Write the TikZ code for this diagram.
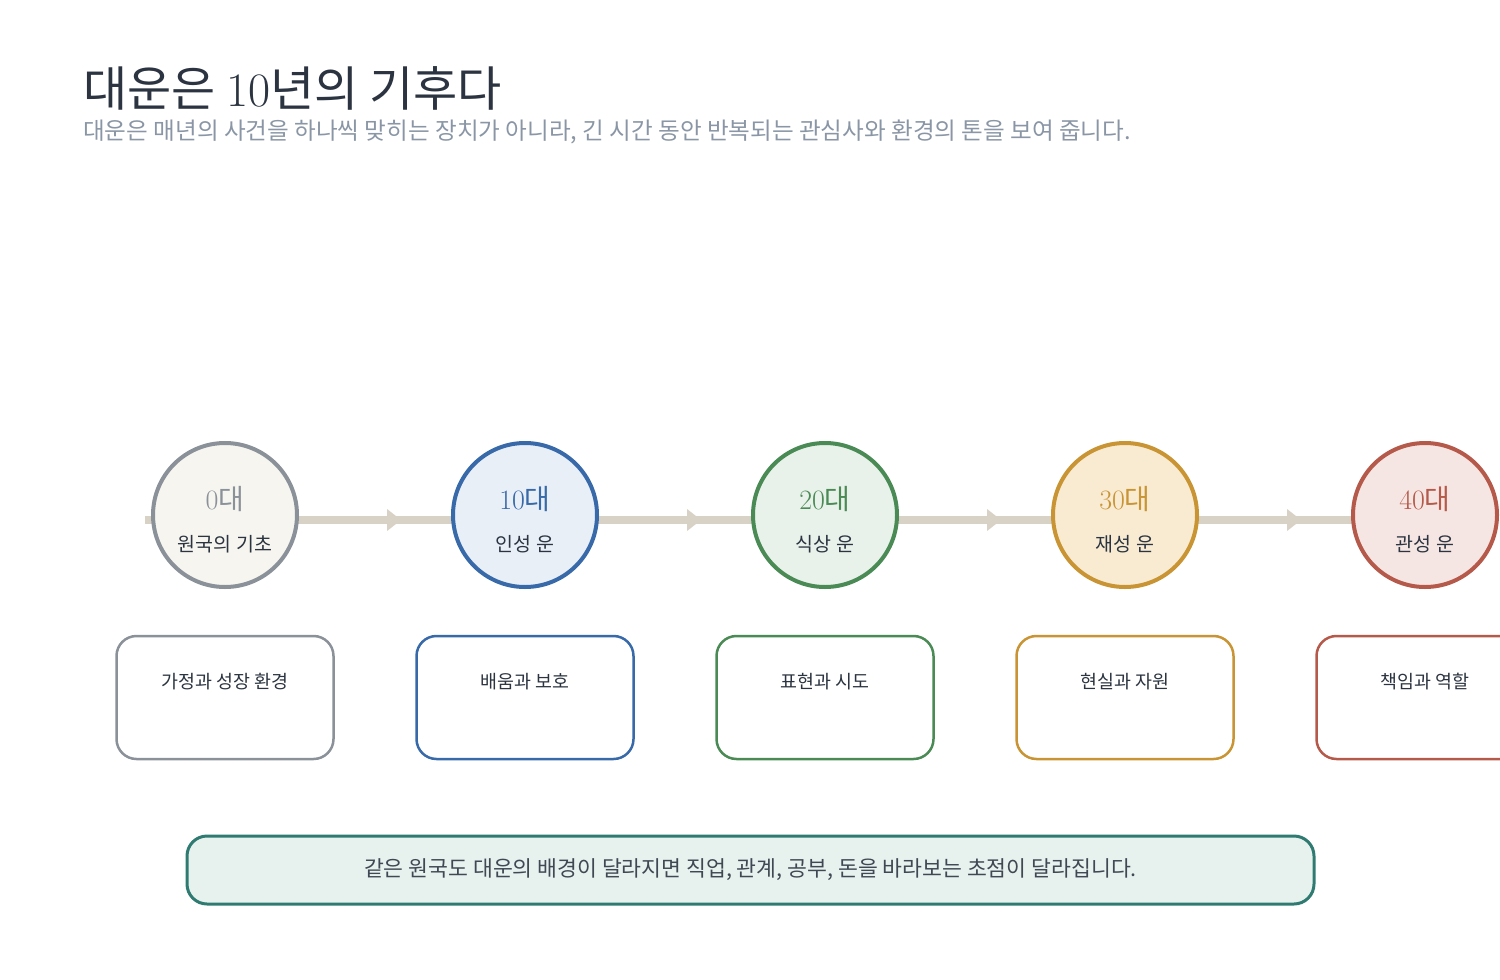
\documentclass[tikz,border=0pt]{standalone}
\usepackage{fontspec}
\newfontfamily\kr{Noto Sans CJK KR}
\usetikzlibrary{arrows.meta,positioning,calc,decorations.markings}
\definecolor{ink}{RGB}{43,52,64}
\definecolor{subink}{RGB}{138,150,165}
\definecolor{track}{RGB}{216,209,198}
\definecolor{gray}{RGB}{138,145,153}
\definecolor{blue}{RGB}{56,105,168}
\definecolor{green}{RGB}{74,138,85}
\definecolor{gold}{RGB}{201,148,52}
\definecolor{red}{RGB}{181,90,74}
\definecolor{teal}{RGB}{47,123,114}
\definecolor{grayfill}{RGB}{246,245,240}
\definecolor{bluefill}{RGB}{232,239,247}
\definecolor{greenfill}{RGB}{232,242,234}
\definecolor{goldfill}{RGB}{248,235,210}
\definecolor{redfill}{RGB}{246,230,227}
\definecolor{notefill}{RGB}{231,241,238}

\begin{document}
\begin{tikzpicture}[x=1pt, y=-1pt, every node/.style={font=\kr, inner sep=0pt},
    flow/.style={track, line width=8pt, postaction={decorate}, decoration={markings,
      mark=at position 0.587 with {\arrow{Triangle[length=14pt,width=21pt]}}}},
    stage/.style={circle, draw=#1, fill=#1fill, line width=4pt, minimum size=144pt},
    card/.style={draw=#1, line width=2.5pt, rounded corners=20pt, fill=white,
      minimum width=217pt, minimum height=123pt},
    age/.style={text=#1, font=\kr\fontsize{28}{28}\selectfont},
    luck/.style={text=ink, font=\kr\fontsize{19.5}{19.5}\selectfont},
    task/.style={text=ink, font=\kr\fontsize{18.4}{18.4}\selectfont}]
      \useasboundingbox (0,0) rectangle (1500,980);
      \clip (0,0) rectangle (1500,980);
      % title
      \node[anchor=base west, text=ink, font=\kr\fontsize{48}{48}\selectfont] (title) at (83,106) {대운은 {\rmfamily 10}년의 기후다};
      \node[anchor=base west, text=subink, font=\kr\fontsize{23.6}{23.6}\selectfont] (subtitle) at (83,139) {대운은 매년의 사건을 하나씩 맞히는 장치가 아니라, 긴 시간 동안 반복되는 관심사와 환경의 톤을 보여 줍니다.};
      % track
      \coordinate (start) at (145,520);
      \coordinate (p0) at (225,520); \coordinate (p1) at (525,520); \coordinate (p2) at (825,520);
      \coordinate (p3) at (1125,520); \coordinate (p4) at (1425,520);
      \draw[track, line width=8pt] (start) -- (p0);
      \draw[flow] (p0) -- (p1); \draw[flow] (p1) -- (p2); \draw[flow] (p2) -- (p3); \draw[flow] (p3) -- (p4);
      % stages
      \node[stage=gray] (c0) at (225,515) {};
      \node[stage=blue] (c1) at (525,515) {};
      \node[stage=green] (c2) at (825,515) {};
      \node[stage=gold] (c3) at (1125,515) {};
      \node[stage=red] (c4) at (1425,515) {};
      \node[age=gray] (a0) at ($(c0)+(0,-16)$) {{\rmfamily 0}대};
      \node[age=blue] (a1) at ($(c1)+(0,-16)$) {{\rmfamily 10}대};
      \node[age=green] (a2) at ($(c2)+(0,-16)$) {{\rmfamily 20}대};
      \node[age=gold] (a3) at ($(c3)+(0,-16)$) {{\rmfamily 30}대};
      \node[age=red] (a4) at ($(c4)+(0,-16)$) {{\rmfamily 40}대};
      \node[luck] (l0) at ($(c0)+(0,29)$) {원국의 기초};
      \node[luck] (l1) at ($(c1)+(0,29)$) {인성 운};
      \node[luck] (l2) at ($(c2)+(0,29)$) {식상 운};
      \node[luck] (l3) at ($(c3)+(0,29)$) {재성 운};
      \node[luck] (l4) at ($(c4)+(0,29)$) {관성 운};
      % cards
      \node[card=gray] (b0) at (225,697.5) {};
      \node[card=blue] (b1) at (525,697.5) {};
      \node[card=green] (b2) at (825,697.5) {};
      \node[card=gold] (b3) at (1125,697.5) {};
      \node[card=red] (b4) at (1425,697.5) {};
      \node[task] (t0) at ($(b0)+(0,-16)$) {가정과 성장 환경};
      \node[task] (t1) at ($(b1)+(0,-16)$) {배움과 보호};
      \node[task] (t2) at ($(b2)+(0,-16)$) {표현과 시도};
      \node[task] (t3) at ($(b3)+(0,-16)$) {현실과 자원};
      \node[task] (t4) at ($(b4)+(0,-16)$) {책임과 역할};
      % note
      \node[draw=teal, fill=notefill, line width=3pt, rounded corners=20pt, minimum width=1127pt,
        minimum height=68pt, text=ink!90, font=\kr\fontsize{21.6}{21.6}\selectfont] (note) at (750.5,870) {같은 원국도 대운의 배경이 달라지면 직업, 관계, 공부, 돈을 바라보는 초점이 달라집니다.};
    \end{tikzpicture}
\end{document}
